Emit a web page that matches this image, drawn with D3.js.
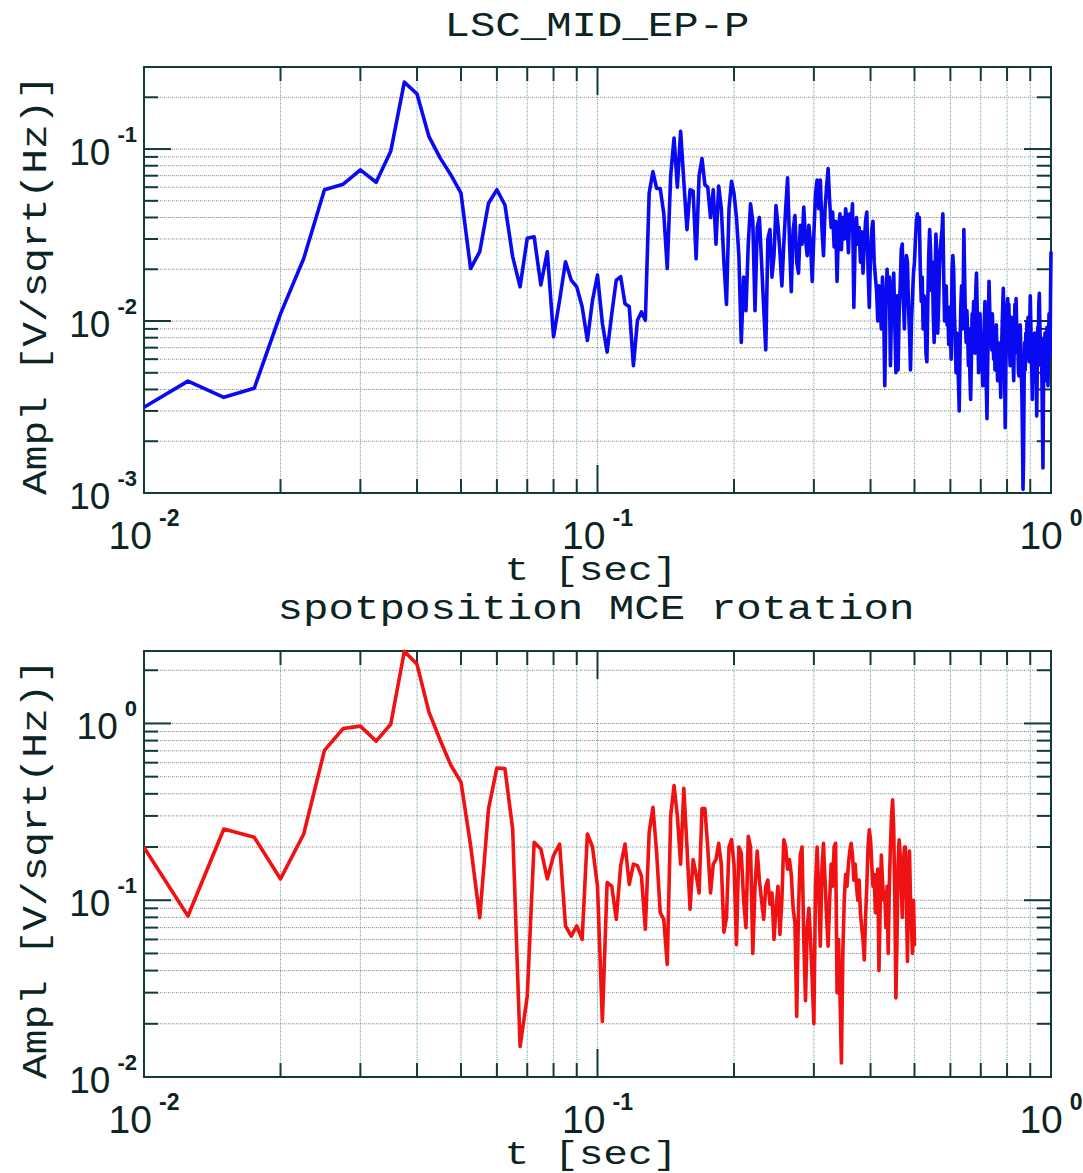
<!DOCTYPE html>
<html>
<head>
<meta charset="utf-8">
<script src="https://cdn.jsdelivr.net/npm/d3@7"></script>
<style>
  html, body { margin: 0; padding: 0; background: #ffffff; }
  svg { display: block; }
</style>
</head>
<body>
<svg id="chart" width="1083" height="1173"></svg>
<script>
// ---------------- DATA ----------------
// sampling of the time axis (seconds)
const tStart = 0.01;
const tStep = 0.0025;

const xTickLabels = ["10|-2", "10|-1", "10|0"];
const xTickValues = [0.01, 0.1, 1];

// Panel 1 : LSC_MID_EP-P  (blue)
const title1 = "LSC_MID_EP-P";
const yDomain1 = [0.001, 0.3];
const yTickValues1 = [0.001, 0.01, 0.1];
const yTickLabels1 = ["10|-3", "10|-2", "10|-1"];
const ampl1 = [
  0.00315,0.00447,0.0036,0.00406,0.011,0.0231,0.058,0.0625,0.0757,0.0641,
  0.097,0.245,0.209,0.118,0.0886,0.0708,0.0554,0.0202,0.0253,0.0484,
  0.058,0.0473,0.0237,0.0158,0.0303,0.0309,0.0162,0.0253,0.0081,0.0132,
  0.0221,0.0173,0.0158,0.0121,0.0077,0.0132,0.0185,0.0097,0.0066,0.011,
  0.0173,0.0181,0.0126,0.0121,0.0055,0.0101,0.0113,0.0101,0.0554,0.074,
  0.059,0.059,0.0422,0.0202,0.07,0.116,0.06,0.127,0.065,0.034,
  0.058,0.057,0.023,0.07,0.088,0.062,0.06,0.04,0.058,0.028,
  0.061,0.045,0.022,0.0125,0.045,0.065,0.055,0.04,0.024,0.0075,
  0.018,0.0115,0.028,0.048,0.038,0.0115,0.035,0.04,0.022,0.012,
  0.0068,0.03,0.034,0.018,0.024,0.047,0.036,0.025,0.016,0.028,
  0.045,0.068,0.03,0.0148,0.034,0.041,0.022,0.019,0.036,0.028,
  0.046,0.03,0.024,0.036,0.028,0.017,0.032,0.055,0.066,0.045,
  0.066,0.035,0.024,0.045,0.06,0.077,0.05,0.035,0.043,0.027,
  0.038,0.017,0.035,0.042,0.026,0.04,0.03,0.045,0.038,0.025,
  0.042,0.035,0.048,0.012,0.03,0.04,0.028,0.035,0.022,0.033,
  0.019,0.028,0.038,0.043,0.02,0.012,0.025,0.034,0.038,0.022,
  0.018,0.015,0.01,0.016,0.013,0.009,0.018,0.012,0.0042,0.012,
  0.02,0.013,0.018,0.0055,0.012,0.016,0.019,0.0095,0.005,0.014,
  0.0052,0.011,0.016,0.026,0.028,0.014,0.009,0.02,0.024,0.022,
  0.012,0.0085,0.0052,0.01,0.014,0.019,0.022,0.03,0.038,0.042,
  0.035,0.04,0.02,0.013,0.018,0.009,0.014,0.011,0.0065,0.0058,
  0.013,0.024,0.034,0.026,0.015,0.022,0.011,0.0075,0.018,0.032,
  0.024,0.0085,0.012,0.02,0.026,0.03,0.034,0.042,0.018,0.01,
  0.013,0.016,0.0095,0.011,0.0073,0.012,0.0085,0.006,0.02,0.024,
  0.02,0.011,0.0075,0.005,0.0085,0.006,0.0045,0.003,0.0065,0.012,
  0.016,0.009,0.013,0.034,0.018,0.01,0.0075,0.0115,0.0085,0.0055,
  0.009,0.0048,0.0035,0.006,0.011,0.0085,0.013,0.01,0.0065,0.015,
  0.019,0.012,0.0085,0.005,0.0072,0.011,
  0.0065,0.0085,0.0055,0.0042,0.0062,0.0095,0.013,0.0068,0.0042,0.0027,
  0.0055,0.0098,0.017,0.012,0.0075,0.0095,0.0068,0.011,0.0078,0.006,
  0.0085,0.0052,0.007,0.0095,0.0062,0.0045,0.0075,0.0058,0.0068,0.0048,
  0.0036,0.0062,0.0088,0.012,0.0155,0.0098,0.0055,0.0024,0.0052,0.0085,
  0.012,0.0135,0.0098,0.0125,0.0072,0.0055,0.0085,0.0105,0.0068,0.0082,
  0.0058,0.0045,0.0078,0.0125,0.0092,0.0135,0.0095,0.0065,0.0078,0.0052,
  0.0048,0.0068,0.0095,0.0072,0.0052,0.0038,0.0022,0.00105,0.0016,0.0045,
  0.0075,0.0052,0.0085,0.0062,0.0098,0.0072,0.0105,0.0082,0.0058,0.0092,
  0.014,0.0098,0.0065,0.0048,0.0035,0.0055,0.0075,0.0062,0.0085,0.0058,
  0.0044,0.0068,0.0028,0.0052,0.0092,0.0075,0.0125,0.0145,0.0095,0.0072,
  0.0055,0.0078,0.0045,0.0025,0.0014,0.0038,0.0068,0.0052,0.0085,0.0062,
  0.0045,0.0068,0.0092,0.0058,0.0042,0.0075,0.011,0.0085,0.0062,0.0135,0.025
];

// Panel 2 : spotposition MCE rotation (red)
const title2 = "spotposition MCE rotation";
const yDomain2 = [0.01, 2.57];
const yTickValues2 = [0.01, 0.1, 1];
const yTickLabels2 = ["10|-2", "10|-1", "10|0"];
const ampl2 = [
  0.199,0.0814,0.253,0.227,0.132,0.237,0.705,0.937,0.966,0.794,
  0.99,2.56,2.16,1.16,0.804,0.58,0.466,0.204,0.0797,0.329,
  0.56,0.555,0.253,0.0149,0.0286,0.213,0.195,0.132,0.179,0.208,
  0.0715,0.0627,0.0715,0.06,0.237,0.2,0.12,0.0206,0.126,0.12,
  0.078,0.157,0.208,0.123,0.16,0.157,0.137,0.0685,0.242,0.336,
  0.187,0.085,0.078,0.0433,0.30,0.446,0.30,0.16,0.43,0.2,
  0.089,0.17,0.14,0.11,0.33,0.33,0.2,0.11,0.16,0.17,
  0.21,0.16,0.066,0.08,0.2,0.22,0.16,0.056,0.2,0.185,
  0.1,0.07,0.23,0.2,0.05,0.12,0.19,0.13,0.1,0.078,
  0.12,0.13,0.095,0.11,0.06,0.09,0.12,0.064,0.1,0.22,
  0.2,0.15,0.17,0.14,0.09,0.075,0.022,0.09,0.18,0.2,
  0.06,0.027,0.07,0.09,0.06,0.035,0.02,0.12,0.2,0.11,
  0.055,0.15,0.21,0.13,0.08,0.055,0.1,0.16,0.12,0.2,
  0.21,0.03,0.06,0.03,0.012,0.05,0.1,0.14,0.12,0.16,
  0.19,0.21,0.18,0.13,0.16,0.12,0.1,0.13,0.085,0.07,
  0.06,0.046,0.08,0.12,0.2,0.25,0.22,0.16,0.12,0.14,
  0.085,0.1,0.15,0.04,0.09,0.18,0.13,0.1,0.11,0.07,
  0.12,0.05,0.12,0.2,0.3,0.37,0.25,0.1,0.028,0.06,
  0.16,0.22,0.18,0.12,0.08,0.15,0.2,0.2,0.1,0.045,
  0.13,0.19,0.1,0.07,0.05,0.1,0.056
];

const xAxisTitle = "t [sec]";
const yAxisTitle = "Ampl [V/sqrt(Hz)]";

// ---------------- DRAWING ----------------
const svg = d3.select("#chart");
svg.append("rect").attr("width", 1083).attr("height", 1173).attr("fill", "#ffffff");

const TXT = "#0c2424";
const FRAME = "#123a3a";
const MONO = "'Liberation Mono', 'DejaVu Sans Mono', monospace";
const SANS = "'Liberation Sans', Arial, sans-serif";

const x = d3.scaleLog().domain([0.01, 1]).range([144, 1051]);

function drawPanel(p) {
  const top = p.top, h = 426, bottom = top + h;
  const left = x.range()[0], right = x.range()[1];
  const y = d3.scaleLog().domain(p.yDomain).range([bottom, top]);
  const g = svg.append("g");

  const clipId = "clip" + p.id;
  svg.append("clipPath").attr("id", clipId)
    .append("rect").attr("x", left).attr("y", top - 2).attr("width", right - left + 2).attr("height", h + 2);

  // grid
  const xt = x.ticks().filter(d => d > 0.0100001 && d < 0.99999);
  const yt = y.ticks().filter(d => d > p.yDomain[0] * 1.00001 && d < p.yDomain[1] * 0.99999);
  const grid = g.append("g");
  [["#36c6c6", 0], ["#f0aaaa", 2]].forEach(([col, off]) => {
    grid.selectAll(null).data(xt).join("line")
      .attr("x1", d => x(d)).attr("x2", d => x(d))
      .attr("y1", top).attr("y2", bottom)
      .attr("stroke", col).attr("stroke-width", 1)
      .attr("stroke-dasharray", "1.3 2.7").attr("stroke-dashoffset", off);
  });
  [["#5a9a9a", 0], ["#f0aaaa", 2]].forEach(([col, off]) => {
    grid.selectAll(null).data(yt).join("line")
      .attr("y1", d => y(d)).attr("y2", d => y(d))
      .attr("x1", left).attr("x2", right)
      .attr("stroke", col).attr("stroke-width", 1)
      .attr("stroke-dasharray", "1.3 2.7").attr("stroke-dashoffset", off);
  });

  // ticks (inward on all four sides)
  const isMajor = v => Math.abs(Math.log10(v) - Math.round(Math.log10(v))) < 1e-6;
  const tk = g.append("g").attr("stroke", FRAME).attr("stroke-width", 2);
  tk.selectAll(null).data(xt).join("line")
    .attr("x1", d => x(d)).attr("x2", d => x(d))
    .attr("y1", bottom).attr("y2", d => bottom - (isMajor(d) ? 28 : 14));
  tk.selectAll(null).data(xt).join("line")
    .attr("x1", d => x(d)).attr("x2", d => x(d))
    .attr("y1", top).attr("y2", d => top + (isMajor(d) ? 28 : 14));
  tk.selectAll(null).data(yt).join("line")
    .attr("y1", d => y(d)).attr("y2", d => y(d))
    .attr("x1", left).attr("x2", d => left + (isMajor(d) ? 27 : 14));
  tk.selectAll(null).data(yt).join("line")
    .attr("y1", d => y(d)).attr("y2", d => y(d))
    .attr("x1", right).attr("x2", d => right - (isMajor(d) ? 27 : 14));

  // frame
  g.append("rect").attr("x", left).attr("y", top).attr("width", right - left).attr("height", h)
    .attr("fill", "none").attr("stroke", FRAME).attr("stroke-width", 2);

  // data line
  const line = d3.line()
    .x((d, i) => x(tStart + i * tStep))
    .y(d => y(d));
  g.append("path").datum(p.values)
    .attr("clip-path", `url(#${clipId})`)
    .attr("d", line)
    .attr("fill", "none").attr("stroke", p.color)
    .attr("stroke-width", 3.6).attr("stroke-linejoin", "round").attr("stroke-linecap", "round");

  // x tick labels
  xTickValues.forEach((v, i) => {
    const [base, ex] = xTickLabels[i].split("|");
    const t = svg.append("text").attr("x", x(v)).attr("y", bottom + 56)
      .attr("text-anchor", "middle").attr("fill", TXT).attr("font-family", SANS).attr("font-size", 39);
    t.append("tspan").text(base);
    t.append("tspan").attr("dx", 7).attr("dy", -23).attr("font-size", 23).attr("font-weight", "bold").text(ex);
  });

  // y tick labels
  p.yTickValues.forEach((v, i) => {
    const [base, ex] = p.yTickLabels[i].split("|");
    const t = svg.append("text").attr("x", 137).attr("y", y(v) + 16)
      .attr("text-anchor", "end").attr("fill", TXT).attr("font-family", SANS).attr("font-size", 37);
    t.append("tspan").text(base);
    t.append("tspan").attr("dx", 7).attr("dy", -23).attr("font-size", 22).attr("font-weight", "bold").text(ex);
  });

  // title
  svg.append("text").attr("x", p.titleX).attr("y", p.titleY)
    .attr("text-anchor", "middle").attr("fill", TXT).attr("font-family", MONO)
    .attr("font-size", 35).attr("textLength", p.titleLen).attr("lengthAdjust", "spacingAndGlyphs")
    .text(p.title);

  // x axis title
  svg.append("text").attr("x", 591).attr("y", bottom + 87)
    .attr("text-anchor", "middle").attr("fill", TXT).attr("font-family", MONO)
    .attr("font-size", 33).attr("textLength", 173).attr("lengthAdjust", "spacingAndGlyphs")
    .text(xAxisTitle);

  // y axis title
  svg.append("text")
    .attr("transform", `translate(46,${top + h / 2 + 5}) rotate(-90)`)
    .attr("text-anchor", "middle").attr("fill", TXT).attr("font-family", MONO)
    .attr("font-size", 35).attr("textLength", 420).attr("lengthAdjust", "spacingAndGlyphs")
    .text(yAxisTitle);
}

drawPanel({ id: 1, top: 67, yDomain: yDomain1, yTickValues: yTickValues1, yTickLabels: yTickLabels1,
  values: ampl1, color: "#0a0af2", title: title1, titleX: 597, titleY: 36, titleLen: 305 });
drawPanel({ id: 2, top: 651, yDomain: yDomain2, yTickValues: yTickValues2, yTickLabels: yTickLabels2,
  values: ampl2, color: "#f01212", title: title2, titleX: 596, titleY: 619, titleLen: 637 });
</script>
</body>
</html>
